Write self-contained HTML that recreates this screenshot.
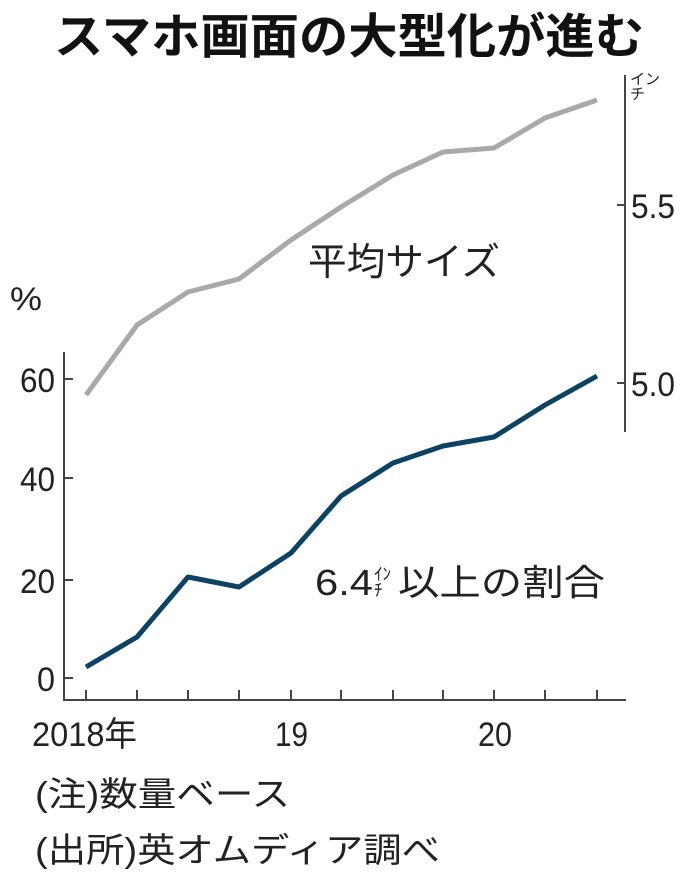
<!DOCTYPE html>
<html><head><meta charset="utf-8"><style>
html,body{margin:0;padding:0;background:#fff;}
svg{display:block}
text{font-family:"Liberation Sans","Noto Sans CJK JP",sans-serif;fill:#222}
</style></head><body>
<svg width="698" height="882" viewBox="0 0 698 882" xmlns="http://www.w3.org/2000/svg">
<text x="349" y="53" text-anchor="middle" style="font-size:48px;font-weight:bold;fill:#111" textLength="590" lengthAdjust="spacingAndGlyphs">スマホ画面の大型化が進む</text>
<line x1="64" y1="352" x2="64" y2="701" stroke="#444" stroke-width="2"/>
<line x1="63" y1="700" x2="626" y2="700" stroke="#444" stroke-width="2"/>
<g stroke="#444" stroke-width="2">
<line x1="64" y1="379" x2="73" y2="379"/><line x1="64" y1="478" x2="73" y2="478"/>
<line x1="64" y1="580" x2="73" y2="580"/><line x1="64" y1="678" x2="73" y2="678"/>
<line x1="86" y1="690" x2="86" y2="700"/><line x1="137" y1="690" x2="137" y2="700"/>
<line x1="188" y1="690" x2="188" y2="700"/><line x1="239" y1="690" x2="239" y2="700"/>
<line x1="291" y1="690" x2="291" y2="700"/><line x1="341" y1="690" x2="341" y2="700"/>
<line x1="393" y1="690" x2="393" y2="700"/><line x1="443" y1="690" x2="443" y2="700"/>
<line x1="494" y1="690" x2="494" y2="700"/><line x1="545" y1="690" x2="545" y2="700"/>
<line x1="597" y1="690" x2="597" y2="700"/>
<line x1="625" y1="75" x2="625" y2="432"/>
<line x1="617" y1="205" x2="625" y2="205"/><line x1="617" y1="383" x2="625" y2="383"/>
</g>
<g style="font-size:34px">
<text x="20" y="392" textLength="35" lengthAdjust="spacingAndGlyphs">60</text>
<text x="20" y="491" textLength="35" lengthAdjust="spacingAndGlyphs">40</text>
<text x="20" y="593" textLength="35" lengthAdjust="spacingAndGlyphs">20</text>
<text x="37" y="691" textLength="18" lengthAdjust="spacingAndGlyphs">0</text>
<text x="631" y="218" textLength="44" lengthAdjust="spacingAndGlyphs">5.5</text>
<text x="631" y="396" textLength="44" lengthAdjust="spacingAndGlyphs">5.0</text>
<text x="32" y="746" textLength="105" lengthAdjust="spacingAndGlyphs">2018年</text>
<text x="275" y="746" textLength="33" lengthAdjust="spacingAndGlyphs">19</text>
<text x="478" y="746" textLength="34" lengthAdjust="spacingAndGlyphs">20</text>
</g>
<text x="10" y="310" style="font-size:32px" textLength="32" lengthAdjust="spacingAndGlyphs">%</text>
<text x="630" y="84" style="font-size:15px">イン</text>
<text x="630" y="99" style="font-size:15px">チ</text>
<polyline fill="none" stroke="#a9a9ab" stroke-width="5" stroke-linejoin="round" points="86,395 137,325 188,292 239,279 291,240 341,207 393,175 443,152 494,148 545,118 597,100"/>
<polyline fill="none" stroke="#0d4262" stroke-width="5" stroke-linejoin="round" points="86,667 137,637 188,577 239,587 291,553 341,496 393,463 443,446 494,437 545,405 597,376"/>
<text x="308" y="275" style="font-size:38px" textLength="192" lengthAdjust="spacingAndGlyphs">平均サイズ</text>
<text x="315" y="595" style="font-size:36px" textLength="58" lengthAdjust="spacingAndGlyphs">6.4</text>
<text x="374" y="580" style="font-size:17px">ｲﾝ</text>
<text x="374" y="596" style="font-size:17px">ﾁ</text>
<text x="398" y="595" style="font-size:36px" textLength="207" lengthAdjust="spacingAndGlyphs">以上の割合</text>
<text x="35" y="806" style="font-size:34px" textLength="255" lengthAdjust="spacingAndGlyphs">(注)数量ベース</text>
<text x="35" y="862" style="font-size:34px" textLength="405" lengthAdjust="spacingAndGlyphs">(出所)英オムディア調べ</text>
</svg>
</body></html>
